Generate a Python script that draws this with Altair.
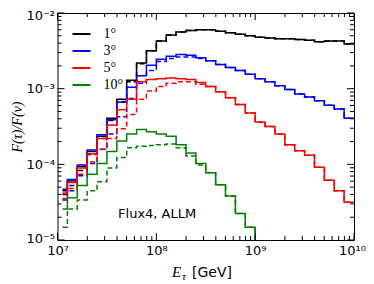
import altair as alt
import pandas as pd

# ---- data (log10 of F(tau)/F(nu)) ----
EDGES_LOG = [7.05, 7.1, 7.2, 7.3, 7.4, 7.5, 7.6, 7.7, 7.8, 7.9,
             8.0, 8.1, 8.2, 8.3, 8.4, 8.5, 8.6, 8.7, 8.8, 8.9,
             9.0, 9.1, 9.2, 9.3, 9.4, 9.5, 9.6, 9.7, 9.8, 9.9, 10.0]

ANGLES = ["1°", "3°", "5°", "10°"]
COLORS = ["#000000", "#0000ff", "#ff0000", "#008000"]

BLACK_SOLID = [-4.35, -4.22, -4.03, -3.83, -3.63, -3.39, -3.14, -2.89, -2.66, -2.50,
               -2.37, -2.29, -2.25, -2.23, -2.22, -2.22, -2.24, -2.26, -2.28, -2.30,
               -2.32, -2.33, -2.34, -2.34, -2.35, -2.36, -2.38, -2.37, -2.37, -2.41]
BLACK_DASHED = [-4.40, -4.28, -4.08, -3.87, -3.66, -3.42, -3.17, -2.91, -2.67, -2.50,
                -2.37, -2.29, -2.25, -2.23, -2.22, -2.22, -2.24, -2.26, -2.28, -2.30,
                -2.32, -2.33, -2.34, -2.34, -2.35, -2.36, -2.38, -2.37, -2.37, -2.41]
BLUE_SOLID = [-4.33, -4.20, -4.01, -3.81, -3.61, -3.41, -3.18, -2.98, -2.83, -2.69,
              -2.61, -2.57, -2.55, -2.56, -2.59, -2.63, -2.68, -2.72, -2.76, -2.81,
              -2.87, -2.91, -2.96, -3.01, -3.07, -3.11, -3.16, -3.22, -3.27, -3.39]
BLUE_DASHED = [-4.47, -4.35, -4.15, -3.99, -3.80, -3.60, -3.37, -3.13, -2.93, -2.76,
               -2.64, -2.60, -2.58, -2.58, -2.60, -2.63, -2.68, -2.72, -2.76, -2.81,
               -2.87, -2.91, -2.96, -3.01, -3.07, -3.11, -3.16, -3.22, -3.27, -3.39]
RED_SOLID = [-4.38, -4.24, -4.05, -3.86, -3.66, -3.48, -3.28, -3.14, -2.91, -2.88,
             -2.87, -2.86, -2.87, -2.88, -2.92, -2.97, -3.04, -3.12, -3.21, -3.32,
             -3.44, -3.50, -3.60, -3.74, -3.82, -3.88, -4.04, -4.21, -4.35, -4.50]
RED_DASHED = [-4.45, -4.32, -4.13, -3.97, -3.80, -3.66, -3.53, -3.34, -3.14, -3.03,
              -2.97, -2.93, -2.91, -2.91, -2.94, -2.97, -3.04, -3.12, -3.21, -3.32,
              -3.44, -3.50, -3.60, -3.74, -3.82, -3.88, -4.04, -4.21, -4.35, -4.50]
GREEN_SOLID = [-4.59, -4.44, -4.28, -4.13, -3.99, -3.83, -3.69, -3.60, -3.54, -3.57,
               -3.60, -3.63, -3.74, -3.85, -3.99, -4.11, -4.27, -4.42, -4.65, -4.83,
               None, None, None, None, None, None, None, None, None, None]
GREEN_DASHED = [-4.83, -4.59, -4.47, -4.35, -4.23, -4.05, -3.91, -3.78, -3.76, -3.75,
                -3.74, -3.73, -3.78, -3.89, -4.01, -4.11, -4.27, -4.42, -4.65, -4.83,
                None, None, None, None, None, None, None, None, None, None]

SERIES = [
    ("1°", "solid", BLACK_SOLID), ("1°", "dashed", BLACK_DASHED),
    ("3°", "solid", BLUE_SOLID), ("3°", "dashed", BLUE_DASHED),
    ("5°", "solid", RED_SOLID), ("5°", "dashed", RED_DASHED),
    ("10°", "solid", GREEN_SOLID), ("10°", "dashed", GREEN_DASHED),
]
ZERO_LEVEL = 1e-8  # stands for an empty bin on the log axis

X_MAJOR = [1e7, 1e8, 1e9, 1e10]
Y_MAJOR = [1e-5, 1e-4, 1e-3, 1e-2]
MINOR_MULT = [2, 3, 4, 5, 6, 7, 8, 9]
X_LABELS = ["10⁷", "10⁸", "10⁹", "10¹⁰"]
Y_LABELS = ["10⁻⁵", "10⁻⁴", "10⁻³", "10⁻²"]

NOTE_TEXT = ["Flux4, ALLM"]
NOTE_X = [4.1e7]
NOTE_Y = [2.2e-5]

# ---- build tables ----
rows = []
for angle, style, vals in SERIES:
    key = angle + style
    for i, v in enumerate(vals):
        if v is None:
            rows.append(dict(x=10 ** EDGES_LOG[i], y=ZERO_LEVEL, angle=angle, style=style, line=key))
            break
        rows.append(dict(x=10 ** EDGES_LOG[i], y=10 ** v, angle=angle, style=style, line=key))
    else:
        rows.append(dict(x=10 ** EDGES_LOG[-1], y=10 ** vals[-1], angle=angle, style=style, line=key))
df = pd.DataFrame(rows)

x_minor = [m * d for d in X_MAJOR[:-1] for m in MINOR_MULT]
y_minor = [m * d for d in Y_MAJOR[:-1] for m in MINOR_MULT]

W, H = 296.5, 227
XS = alt.Scale(type="log", domain=[1e7, 1e10], nice=False)
YS = alt.Scale(type="log", domain=[1e-5, 1e-2], nice=False)


def label_expr(values, labels):
    expr = "'" + labels[-1] + "'"
    for v, lab in reversed(list(zip(values[:-1], labels[:-1]))):
        expr = f"datum.value < {v * 3} ? '{lab}' : " + expr
    return expr


x_axis = alt.Axis(values=X_MAJOR, labelExpr=label_expr(X_MAJOR, X_LABELS), ticks=False,
                  domain=False, grid=False, title=None, labelFont="DejaVu Sans",
                  labelFontSize=13, labelColor="black", labelPadding=4,
                  labelOffset={"condition": {"test": "datum.value > 5e9", "value": -2}, "value": 0},
                  labelFlush=False, labelOverlap=False)
y_axis = alt.Axis(values=Y_MAJOR, labelExpr=label_expr(Y_MAJOR, Y_LABELS), ticks=False,
                  domain=False, grid=False, title="F(τ)/F(ν)", titleFont="Liberation Serif",
                  titleFontStyle="italic", titleFontWeight="normal", titleFontSize=14,
                  titleColor="black", titlePadding=1, labelFont="DejaVu Sans",
                  labelFontSize=13, labelColor="black", labelPadding=3,
                  labelOffset={"condition": [{"test": "datum.value > 5e-3", "value": 2},
                                             {"test": "datum.value < 5e-5", "value": -2}],
                               "value": 0},
                  labelFlush=False, labelOverlap=False)

lines = alt.Chart(df).mark_line(interpolate="step-after", strokeWidth=1.5, clip=True).encode(
    x=alt.X("x:Q", scale=XS, axis=x_axis),
    y=alt.Y("y:Q", scale=YS, axis=y_axis),
    color=alt.Color("angle:N", scale=alt.Scale(domain=ANGLES, range=COLORS),
                    legend=alt.Legend(title=None, orient="none", legendX=14, legendY=11,
                                      symbolType="stroke", symbolSize=324,
                                      symbolStrokeWidth=2, labelFont="Liberation Serif",
                                      labelFontSize=14, labelColor="black", labelOffset=12,
                                      rowPadding=0, padding=0)),
    strokeDash=alt.StrokeDash("style:N", scale=alt.Scale(domain=["solid", "dashed"],
                                                        range=[[1, 0], [5, 3]]), legend=None),
    detail="line:N",
)


def xticks(vals, length):
    d = pd.DataFrame({"x": vals})
    bottom = alt.Chart(d).mark_rule(color="black", strokeWidth=1).encode(
        x=alt.X("x:Q", scale=XS, axis=x_axis), y=alt.value(H), y2=alt.value(H - length))
    top = alt.Chart(d).mark_rule(color="black", strokeWidth=1).encode(
        x=alt.X("x:Q", scale=XS, axis=x_axis), y=alt.value(0), y2=alt.value(length))
    return [bottom, top]


def yticks(vals, length):
    d = pd.DataFrame({"y": vals})
    left = alt.Chart(d).mark_rule(color="black", strokeWidth=1).encode(
        y=alt.Y("y:Q", scale=YS, axis=y_axis), x=alt.value(0), x2=alt.value(length))
    right = alt.Chart(d).mark_rule(color="black", strokeWidth=1).encode(
        y=alt.Y("y:Q", scale=YS, axis=y_axis), x=alt.value(W - length), x2=alt.value(W))
    return [left, right]


ticks = xticks(X_MAJOR, 7) + xticks(x_minor, 4) + yticks(Y_MAJOR, 7) + yticks(y_minor, 4)

note = alt.Chart(pd.DataFrame({"x": NOTE_X, "y": NOTE_Y, "t": NOTE_TEXT})).mark_text(
    align="left", baseline="middle", font="DejaVu Sans", fontSize=13, color="black").encode(
    x=alt.X("x:Q", scale=XS, axis=x_axis), y=alt.Y("y:Q", scale=YS, axis=y_axis), text="t:N")

one = pd.DataFrame({"k": [0]})
t_E = alt.Chart(one).mark_text(align="left", baseline="alphabetic", font="Liberation Serif",
                               fontStyle="italic", fontSize=15, color="black").encode(
    x=alt.value(114.5), y=alt.value(264), text=alt.value("E"))
t_tau = alt.Chart(one).mark_text(align="left", baseline="alphabetic", font="Liberation Serif",
                                 fontStyle="italic", fontSize=11, color="black").encode(
    x=alt.value(124.5), y=alt.value(267), text=alt.value("τ"))
t_gev = alt.Chart(one).mark_text(align="left", baseline="alphabetic", font="DejaVu Sans",
                                 fontSize=14, color="black").encode(
    x=alt.value(134.5), y=alt.value(264), text=alt.value("[GeV]"))

chart = alt.layer(lines, *ticks, note, t_E, t_tau, t_gev).properties(
    width=W, height=H, autosize="none",
    padding={"left": 49.5, "top": 5, "right": 12, "bottom": 44},
).configure_view(stroke="black", strokeWidth=1)

chart.save("out.html", embed_options={"renderer": "svg", "actions": False})
